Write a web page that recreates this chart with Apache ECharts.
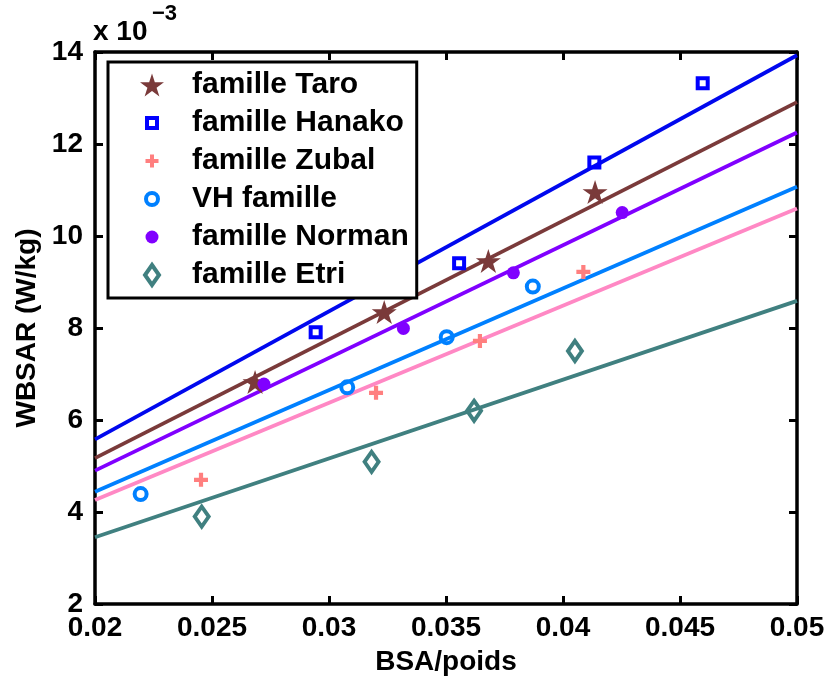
<!DOCTYPE html>
<html>
<head>
<meta charset="utf-8">
<script src="https://cdn.jsdelivr.net/npm/echarts@6/dist/echarts.min.js"></script>
<style>html,body{margin:0;padding:0;background:#fff;}#c{width:830px;height:681px;}</style>
</head>
<body>
<div id="c"></div>
<script>
// ---- data (WBSAR in 10^-3 W/kg vs BSA/poids) ----
const seriesNames = ['famille Taro', 'famille Hanako', 'famille Zubal', 'VH famille', 'famille Norman', 'famille Etri'];
const xTicks = [0.02, 0.025, 0.03, 0.035, 0.04, 0.045, 0.05];
const yTicks = [2, 4, 6, 8, 10, 12, 14];

const xTaro = [0.02684, 0.03236, 0.03681, 0.04137];
const yTaro = [6.80, 8.32, 9.43, 10.93];
const xHanako = [0.02943, 0.03556, 0.04134, 0.04597];
const yHanako = [7.91, 9.41, 11.60, 13.32];
const xZubal = [0.02453, 0.03201, 0.03645, 0.04087];
const yZubal = [4.70, 6.59, 7.72, 9.22];
const xVH = [0.02195, 0.03078, 0.03503, 0.03871];
const yVH = [4.39, 6.71, 7.80, 8.90];
const xNorman = [0.02722, 0.03318, 0.03788, 0.04253];
const yNorman = [6.78, 7.99, 9.20, 10.51];
const xEtri = [0.02456, 0.03182, 0.03620, 0.04051];
const yEtri = [3.90, 5.09, 6.20, 7.50];

// fitted lines, read at x = 0.02 and x = 0.05
const fitX = [0.02, 0.05];
const fitTaro = [5.17, 12.91];
const fitHanako = [5.58, 13.93];
const fitZubal = [4.26, 10.60];
const fitVH = [4.44, 11.07];
const fitNorman = [4.90, 12.25];
const fitEtri = [3.45, 8.59];

// ---- styling ----
const FONT = '"Liberation Sans", Arial, Helvetica, sans-serif';
const pts = (xs, ys) => xs.map((x, i) => [x, ys[i]]);

const starPath = 'M12 0.6L14.83 9.31L23.98 9.31L16.58 14.69L19.41 23.39L12 18.01L4.59 23.39L7.42 14.69L0.02 9.31L9.17 9.31Z';
const plusPath = 'M35 0H65V35H100V65H65V100H35V65H0V35H35Z';
const anchor = 'M0 0M47 24';
const legendIcons = [
  'path://' + anchor + starPath,
  'path://' + anchor + 'M7 7H17V17H7Z',
  'path://' + anchor + 'M10 5.5H14V10H18.5V14H14V18.5H10V14H5.5V10H10Z',
  'path://' + anchor + 'M6 12A6 6 0 1 1 18 12A6 6 0 1 1 6 12Z',
  'path://' + anchor + 'M5.5 12A6.5 6.5 0 1 1 18.5 12A6.5 6.5 0 1 1 5.5 12Z',
  'path://' + anchor + 'M12 2L19 12L12 22L5 12Z'
];

const cTaro = '#7a3a3a', cHanako = '#0000ff', cHanakoLine = '#0008ee', cZubal = '#ff7f7f', cZubalLine = '#ff88c4',
      cVH = '#0080ff', cNorman = '#8000ff', cEtri = '#408080';

const markerStyles = [
  { symbol: 'path://' + starPath, symbolSize: [25, 24], symbolOffset: [0, -1.2], itemStyle: { color: cTaro, borderWidth: 0, opacity: 1 } },
  { symbol: 'rect', symbolSize: 10, itemStyle: { color: 'rgba(255,255,255,0)', borderColor: cHanako, borderWidth: 4, opacity: 1 } },
  { symbol: 'path://' + plusPath, symbolSize: 14, itemStyle: { color: cZubal, borderWidth: 0, opacity: 1 } },
  { symbol: 'circle', symbolSize: 12, itemStyle: { color: 'rgba(255,255,255,0)', borderColor: cVH, borderWidth: 4, opacity: 1 } },
  { symbol: 'circle', symbolSize: 13, itemStyle: { color: cNorman, borderWidth: 0, opacity: 1 } },
  { symbol: 'diamond', symbolSize: [14, 20], itemStyle: { color: 'rgba(255,255,255,0)', borderColor: cEtri, borderWidth: 4, opacity: 1 } }
];
const scatterData = [pts(xTaro, yTaro), pts(xHanako, yHanako), pts(xZubal, yZubal), pts(xVH, yVH), pts(xNorman, yNorman), pts(xEtri, yEtri)];
const fitData = [fitTaro, fitHanako, fitZubal, fitVH, fitNorman, fitEtri];
const lineColors = [cTaro, cHanakoLine, cZubalLine, cVH, cNorman, cEtri];

const series = [];
fitData.forEach((f, i) => {
  series.push({
    name: 'fit ' + seriesNames[i], type: 'line', data: pts(fitX, f), symbol: 'none', silent: true,
    lineStyle: { color: lineColors[i], width: 3.8 }, z: 2
  });
});
scatterData.forEach((d, i) => {
  series.push(Object.assign({ name: seriesNames[i], type: 'scatter', data: d, z: 3 }, markerStyles[i]));
});

const axisCommon = {
  type: 'value', splitLine: { show: false },
  axisLine: { show: true, onZero: false, lineStyle: { color: '#000', width: 3.5 } },
  axisTick: { show: true, inside: true, length: 8, lineStyle: { color: '#000', width: 3 } }
};

const option = {
  animation: false,
  backgroundColor: '#fff',
  grid: { left: 95, right: 33, top: 52, bottom: 77, containLabel: false },
  xAxis: [
    Object.assign({}, axisCommon, {
      min: xTicks[0], max: xTicks[xTicks.length - 1], interval: 0.005, position: 'bottom',
      name: 'BSA/poids', nameLocation: 'middle', nameGap: 44,
      nameTextStyle: { fontFamily: FONT, fontWeight: 'bold', fontSize: 28, color: '#000' },
      axisLabel: { margin: 10, fontFamily: FONT, fontWeight: 'bold', fontSize: 28, color: '#000',
        formatter: v => String(+v.toFixed(3)) }
    }),
    Object.assign({}, axisCommon, {
      min: xTicks[0], max: xTicks[xTicks.length - 1], interval: 0.005, position: 'top',
      axisLabel: { show: false }
    })
  ],
  yAxis: [
    Object.assign({}, axisCommon, {
      min: yTicks[0], max: yTicks[yTicks.length - 1], interval: 2, position: 'left',
      name: 'WBSAR (W/kg)', nameLocation: 'middle', nameGap: 43, nameRotate: 90,
      nameTextStyle: { fontFamily: FONT, fontWeight: 'bold', fontSize: 28, color: '#000' },
      axisLabel: { margin: 12, fontFamily: FONT, fontWeight: 'bold', fontSize: 28, color: '#000' }
    }),
    Object.assign({}, axisCommon, {
      min: yTicks[0], max: yTicks[yTicks.length - 1], interval: 2, position: 'right',
      axisLabel: { show: false }
    })
  ],
  legend: {
    orient: 'vertical', left: 108, top: 62,
    padding: [8, 8, 8, 30],
    itemWidth: 47, itemHeight: 24, itemGap: 8,
    backgroundColor: '#fff', borderColor: '#000', borderWidth: 3,
    textStyle: { fontFamily: FONT, fontWeight: 'bold', fontSize: 30, color: '#000', lineHeight: 30 },
    data: seriesNames.map((n, i) => ({
      name: n, icon: legendIcons[i],
      itemStyle: {
        color: markerStyles[i].itemStyle.color,
        borderColor: markerStyles[i].itemStyle.borderColor || 'rgba(0,0,0,0)',
        borderWidth: markerStyles[i].itemStyle.borderWidth,
        opacity: 1
      }
    })),
    selectedMode: false
  },
  graphic: [
    { type: 'text', left: 93, top: 18, style: { text: 'x 10', fontFamily: FONT, fontWeight: 'bold', fontSize: 28, fill: '#000' } },
    { type: 'text', left: 152, top: 3, style: { text: '\u22123', fontFamily: FONT, fontWeight: 'bold', fontSize: 22, fill: '#000' } }
  ],
  series: series
};

const chart = echarts.init(document.getElementById('c'), null, { renderer: 'canvas' });
chart.setOption(option);
</script>
</body>
</html>
